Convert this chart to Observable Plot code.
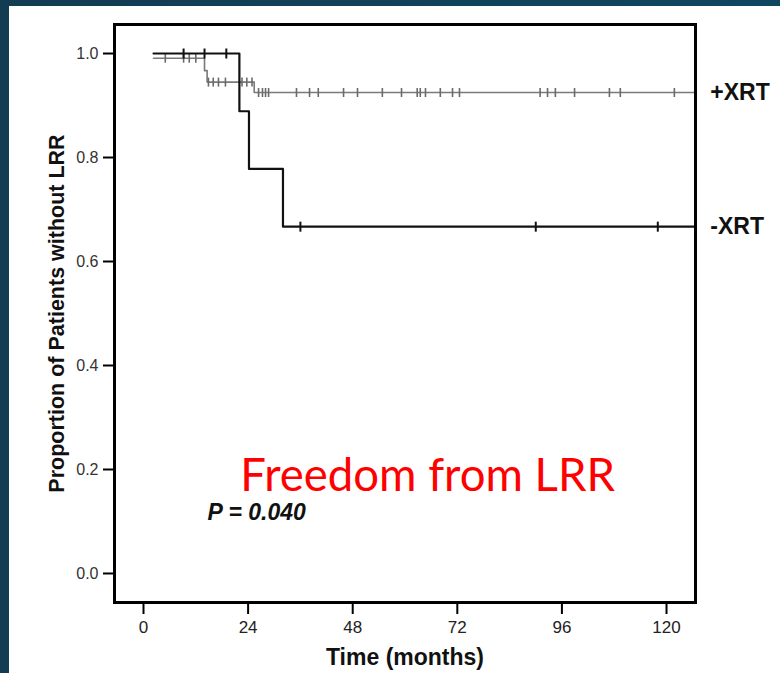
<!DOCTYPE html>
<html>
<head>
<meta charset="utf-8">
<script src="https://cdn.jsdelivr.net/npm/d3@7"></script>
<script src="https://cdn.jsdelivr.net/npm/@observablehq/plot@0.6"></script>
<style>
  html, body { margin: 0; padding: 0; }
  body { width: 780px; height: 673px; overflow: hidden; position: relative;
         background: linear-gradient(90deg, #123c52 0%, #0f4660 100%); }
  #paper { position: absolute; left: 9px; top: 6px; width: 771px; height: 667px; background: #fff; }
  #chart { position: absolute; left: 0; top: 0; }
</style>
</head>
<body>
<div id="paper"></div>
<div id="chart"></div>
<script>
// ---- data ----
const xTicks = [0, 24, 48, 72, 96, 120];
const yTicks = [0, 0.2, 0.4, 0.6, 0.8, 1.0];

// -XRT Kaplan-Meier steps (time in months, survival proportion)
const minusTimes = [2.3, 22.0, 24.2, 32.0, 126.6];
const minusSurv  = [1.0, 0.889, 0.778, 0.667, 0.667];
const minusCensor = [9.2, 14.0, 19.0, 36.0, 90.0, 118.0];

// +XRT Kaplan-Meier steps
const plusTimes = [2.3, 14.0, 14.6, 25.4, 126.6];
const plusSurv  = [0.991, 0.967, 0.945, 0.925, 0.925];
const plusCensor = [5.0, 9.2, 10.5, 12.0,
  14.9, 16.0, 17.2, 18.8, 22.6, 23.7, 24.9,
  26.4, 27.3, 28.0, 28.7, 35.1, 38.1, 40.1, 45.9, 49.1, 54.8, 59.2,
  62.8, 63.5, 64.7, 68.1, 70.9, 72.5, 91.0, 92.7, 94.5, 98.9, 106.9, 109.4, 121.8];

const groupLabels = ["+XRT", "-XRT"];
const annotation = "Freedom from LRR";
const pValue = "P = 0.040";
const yLabel = "Proportion of Patients without LRR";
const xLabel = "Time (months)";

// ---- build tables ----
const minusSteps = minusTimes.map((t, i) => ({t, s: minusSurv[i]}));
const plusSteps = plusTimes.map((t, i) => ({t, s: plusSurv[i]}));
function survAt(steps, t) {
  let s = steps[0].s;
  for (const d of steps) if (d.t <= t) s = d.s;
  return s;
}
const minusMarks = minusCensor.map(t => ({t, s: survAt(minusSteps, t)}));
const plusMarks = plusCensor.map(t => ({t, s: survAt(plusSteps, t)}));
const endLabels = [
  {t: plusTimes[plusTimes.length - 1], s: plusSurv[plusSurv.length - 1], label: groupLabels[0]},
  {t: minusTimes[minusTimes.length - 1], s: minusSurv[minusSurv.length - 1], label: groupLabels[1]}
];

const vbar = {
  draw(ctx, size) {
    const r = Math.sqrt(size / Math.PI);
    ctx.moveTo(0, -r);
    ctx.lineTo(0, r);
  }
};

const font = "'Liberation Sans', Arial, Helvetica, sans-serif";

const chart = Plot.plot({
  width: 780,
  height: 673,
  marginLeft: 114,
  marginRight: 85,
  marginTop: 24,
  marginBottom: 71,
  style: {background: "transparent", fontFamily: font, overflow: "visible"},
  x: {domain: [-6.654, 126.65]},
  y: {domain: [-0.0558, 1.0558]},
  marks: [
    Plot.axisX({ticks: xTicks, tickSize: 12, tickPadding: 6, fontSize: 17, tickFormat: d => String(d),
                label: null, strokeWidth: 2, fill: "#222"}),
    Plot.axisY({ticks: yTicks, tickSize: 11, tickPadding: 5, fontSize: 16, tickFormat: d3.format(".1f"),
                label: null, strokeWidth: 2, fill: "#333"}),
    Plot.line(plusSteps, {x: "t", y: "s", curve: "step-after", stroke: "#7a7a7a", strokeWidth: 1.6}),
    Plot.dot(plusMarks, {x: "t", y: "s", symbol: vbar, r: 4.5, stroke: "#6a6a6a", strokeWidth: 1.6, fill: "none"}),
    Plot.line(minusSteps, {x: "t", y: "s", curve: "step-after", stroke: "#111", strokeWidth: 2.2}),
    Plot.dot(minusMarks, {x: "t", y: "s", symbol: vbar, r: 5, stroke: "#111", strokeWidth: 2, fill: "none"}),
    Plot.frame({stroke: "#000", strokeWidth: 3}),
    Plot.text(endLabels, {x: "t", y: "s", text: "label", dx: 15, textAnchor: "start", lineAnchor: "middle",
                          fontSize: 23, fontWeight: "bold", fill: "#111"}),
    Plot.text([annotation], {x: 65.2, y: 0.186, text: d => d, fontSize: 45.5, fill: "#ff0000",
                             fontFamily: "Lato, 'Open Sans', sans-serif", lineAnchor: "middle"}),
    Plot.text([pValue], {x: 14.7, y: 0.118, text: d => d, textAnchor: "start", lineAnchor: "middle",
                         fontSize: 23, fontWeight: "bold", fontStyle: "italic", fill: "#111"}),
    Plot.text([yLabel], {frameAnchor: "left", dx: -57, rotate: -90, text: d => d, textAnchor: "middle",
                         lineAnchor: "middle", fontSize: 21.5, fontWeight: "bold", fill: "#111"}),
    Plot.text([xLabel], {frameAnchor: "bottom", dy: 55, text: d => d, textAnchor: "middle", lineAnchor: "middle",
                         fontSize: 23, fontWeight: "bold", fill: "#111"})
  ]
});
document.getElementById("chart").appendChild(chart);
</script>
</body>
</html>
